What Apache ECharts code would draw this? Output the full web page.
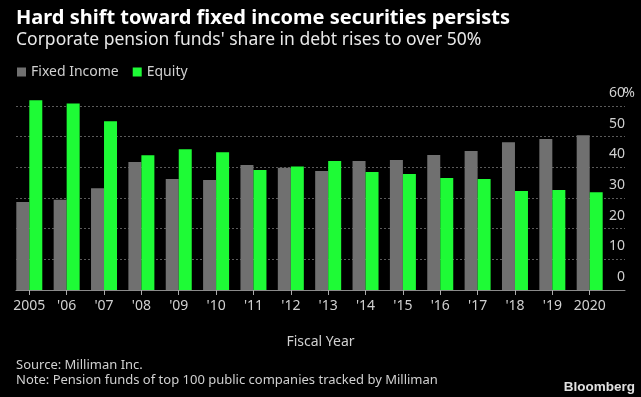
<!DOCTYPE html>
<html>
<head>
<meta charset="UTF-8">
<title>Fixed income share</title>
<script src="https://cdn.jsdelivr.net/npm/echarts@6/dist/echarts.min.js"></script>
<style>
  body { margin: 0; background: #000; }
  #chart { width: 641px; height: 397px; }
</style>
</head>
<body>
<div id="chart"></div>
<script>
// fiscal years, tick labels as printed
var years = ['2005', "'06", "'07", "'08", "'09", "'10", "'11", "'12", "'13", "'14", "'15", "'16", "'17", "'18", "'19", '2020'];
// share of assets, %
var fixedIncome = [28.7, 29.4, 33.2, 41.7, 36.2, 35.9, 40.8, 39.9, 38.8, 42.1, 42.4, 44.0, 45.3, 48.2, 49.2, 50.5];
var equity = [61.9, 60.8, 55.0, 43.9, 45.9, 44.9, 39.1, 40.3, 42.1, 38.5, 37.8, 36.5, 36.2, 32.3, 32.6, 31.9];

var font = '"Noto Sans", sans-serif';
var idx = years.map(function(y, i){ return i; });

function pairs(arr) {
  return arr.map(function(v, i){ return [i, v]; });
}

var chart = echarts.init(document.getElementById('chart'));
chart.setOption({
  backgroundColor: '#000',
  animation: false,
  textStyle: { fontFamily: font },
  title: [
    { text: 'Hard shift toward fixed income securities persists', left: 11, top: 3,
      textStyle: { color: '#fff', fontSize: 20, fontWeight: 'bold', fontFamily: font } },
    { text: "Corporate pension funds' share in debt rises to over 50%", left: 11, top: 26,
      textStyle: { color: '#e8e8e8', fontSize: 17.5, fontWeight: 'normal', fontFamily: font } },
    { text: 'Source: Milliman Inc.', left: 11, top: 354,
      textStyle: { color: '#d0d0d0', fontSize: 13, fontWeight: 'normal', fontFamily: font } },
    { text: 'Note: Pension funds of top 100 public companies tracked by Milliman', left: 11, top: 369,
      textStyle: { color: '#d0d0d0', fontSize: 13, fontWeight: 'normal', fontFamily: font } },
    { text: 'Bloomberg', right: 1, top: 375,
      textStyle: { color: '#e0e0e0', fontSize: 13.5, fontWeight: 'bold', fontFamily: '"Liberation Sans", sans-serif' } }
  ],
  legend: {
    left: 12, top: 60,
    icon: 'rect', itemWidth: 9, itemHeight: 9, itemGap: 14,
    textStyle: { color: '#d0d0d0', fontSize: 14, fontFamily: font },
    data: ['Fixed Income', 'Equity']
  },
  grid: { left: 16, right: 16, top: 106, bottom: 107 },
  xAxis: {
    type: 'value',
    min: -0.356, max: 15.945,
    name: 'Fiscal Year', nameLocation: 'middle', nameGap: 45,
    nameTextStyle: { color: '#d0d0d0', fontSize: 14 },
    splitLine: { show: false },
    axisLine: { show: true, lineStyle: { color: '#8a8a8a', width: 1 } },
    axisTick: { show: true, customValues: idx, length: 5, lineStyle: { color: '#aaa' } },
    axisLabel: {
      customValues: idx, color: '#d0d0d0', fontSize: 14, margin: 9,
      formatter: function(v){ return years[Math.round(v)]; }
    }
  },
  yAxis: {
    type: 'value', position: 'right',
    min: 0, max: 60, interval: 10,
    axisLine: { show: false }, axisTick: { show: false },
    splitLine: { show: true, lineStyle: { color: '#5a5a5a', type: [2, 2], width: 1 } },
    axisLabel: {
      inside: true, margin: -10, verticalAlign: 'bottom', padding: [0, 0, 6, 0],
      color: '#d0d0d0', fontSize: 14,
      formatter: function(v){ return '{n|' + v + '}{p|' + (v === 60 ? '%' : ' ') + '}'; },
      rich: {
        n: { color: '#d0d0d0', fontSize: 14, fontFamily: font },
        p: { color: '#d0d0d0', fontSize: 14, fontFamily: font, width: 10 }
      }
    }
  },
  series: [
    { name: 'Fixed Income', type: 'bar', barWidth: 13, barGap: '0%', clip: false,
      itemStyle: { color: '#707070' }, data: pairs(fixedIncome) },
    { name: 'Equity', type: 'bar', barWidth: 13, barGap: '0%', clip: false,
      itemStyle: { color: '#1efb36' }, data: pairs(equity) }
  ]
});
</script>
</body>
</html>
